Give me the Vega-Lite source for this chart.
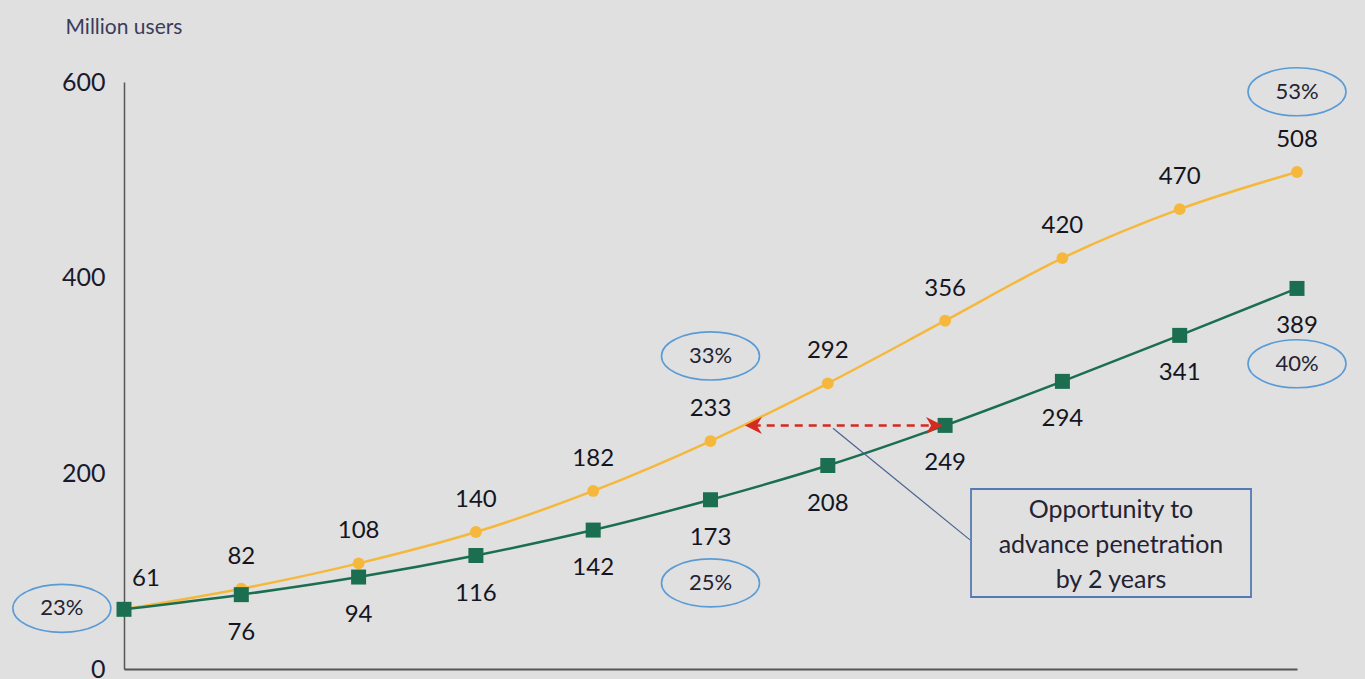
{
  "$schema": "https://vega.github.io/schema/vega-lite/v6.json",
  "width": 1173,
  "height": 587,
  "autosize": {"type": "none"},
  "padding": {"left": 124, "top": 82, "right": 68, "bottom": 10},
  "background": "#e0e0e0",
  "config": {"view": {"stroke": null}, "font": "Lato"},
  "datasets": {
    "users": [
      {"i": 0, "series": "Orange", "v": 61}, {"i": 1, "series": "Orange", "v": 82},
      {"i": 2, "series": "Orange", "v": 108}, {"i": 3, "series": "Orange", "v": 140},
      {"i": 4, "series": "Orange", "v": 182}, {"i": 5, "series": "Orange", "v": 233},
      {"i": 6, "series": "Orange", "v": 292}, {"i": 7, "series": "Orange", "v": 356},
      {"i": 8, "series": "Orange", "v": 420}, {"i": 9, "series": "Orange", "v": 470},
      {"i": 10, "series": "Orange", "v": 508},
      {"i": 0, "series": "Green", "v": 61}, {"i": 1, "series": "Green", "v": 76},
      {"i": 2, "series": "Green", "v": 94}, {"i": 3, "series": "Green", "v": 116},
      {"i": 4, "series": "Green", "v": 142}, {"i": 5, "series": "Green", "v": 173},
      {"i": 6, "series": "Green", "v": 208}, {"i": 7, "series": "Green", "v": 249},
      {"i": 8, "series": "Green", "v": 294}, {"i": 9, "series": "Green", "v": 341},
      {"i": 10, "series": "Green", "v": 389}
    ],
    "pct": [
      {"x": -0.53, "y": 62, "label": "23%"},
      {"x": 5.0, "y": 320, "label": "33%"},
      {"x": 5.0, "y": 88, "label": "25%"},
      {"x": 10.0, "y": 590, "label": "53%"},
      {"x": 10.0, "y": 312, "label": "40%"}
    ],
    "arrow": [{"x": 5.36, "x2": 6.9, "y": 249}],
    "arrowL": [{"x": 5.366, "y": 249}],
    "arrowR": [{"x": 6.91, "y": 249}],
    "connector": [{"x": 6.044, "y": 246, "x2": 7.212, "y2": 132}],
    "box": [{"x": 7.221, "x2": 9.608, "y": 184, "y2": 73.6}],
    "boxText": [{"x": 8.414, "y": 162.5, "t": ["Opportunity to", "advance penetration", "by 2 years"]}]
  },
  "layer": [
    {
      "data": {"name": "users"},
      "mark": {"type": "line", "interpolate": "monotone", "strokeWidth": 2.5},
      "encoding": {
        "x": {"field": "i", "type": "quantitative",
              "scale": {"domain": [0, 10], "nice": false, "zero": false},
              "axis": {"title": null, "labels": false, "ticks": false, "grid": false,
                       "domainColor": "#555555", "domainWidth": 2}},
        "y": {"field": "v", "type": "quantitative",
              "scale": {"domain": [0, 600], "nice": false},
              "axis": {"values": [0, 200, 400, 600], "ticks": false, "grid": false,
                       "domainColor": "#555555", "domainWidth": 1.5,
                       "labelFontSize": 25, "labelColor": "#1a1a2c", "labelPadding": 19,
                       "title": "Million users", "titleAngle": 0, "titleAlign": "left",
                       "titleBaseline": "middle", "titleX": -59, "titleY": -55,
                       "titleFontSize": 21, "titleFontWeight": "normal", "titleColor": "#3b3b5b"}},
        "color": {"field": "series", "type": "nominal",
                  "scale": {"domain": ["Orange", "Green"], "range": ["#f5b83d", "#1b6e50"]},
                  "legend": null},
        "order": {"field": "i"}
      }
    },
    {
      "data": {"name": "users"},
      "transform": [{"filter": "datum.series === 'Orange'"}],
      "mark": {"type": "point", "shape": "circle", "filled": true, "opacity": 1, "size": 140, "color": "#f5b83d"},
      "encoding": {
        "x": {"field": "i", "type": "quantitative"},
        "y": {"field": "v", "type": "quantitative"}
      }
    },
    {
      "data": {"name": "users"},
      "transform": [{"filter": "datum.series === 'Green'"}],
      "mark": {"type": "point", "shape": "square", "filled": true, "opacity": 1, "size": 225, "color": "#1b6e50"},
      "encoding": {
        "x": {"field": "i", "type": "quantitative"},
        "y": {"field": "v", "type": "quantitative"}
      }
    },
    {
      "data": {"name": "users"},
      "transform": [{"filter": "datum.series === 'Orange' && datum.i > 0"}],
      "mark": {"type": "text", "dy": -32, "fontSize": 24, "color": "#151522", "baseline": "middle"},
      "encoding": {
        "x": {"field": "i", "type": "quantitative"},
        "y": {"field": "v", "type": "quantitative"},
        "text": {"field": "v", "type": "quantitative"}
      }
    },
    {
      "data": {"name": "users"},
      "transform": [{"filter": "datum.series === 'Orange' && datum.i === 0"}],
      "mark": {"type": "text", "dx": 22, "dy": -30, "fontSize": 24, "color": "#151522", "baseline": "middle"},
      "encoding": {
        "x": {"field": "i", "type": "quantitative"},
        "y": {"field": "v", "type": "quantitative"},
        "text": {"field": "v", "type": "quantitative"}
      }
    },
    {
      "data": {"name": "users"},
      "transform": [{"filter": "datum.series === 'Green' && datum.i > 0"}],
      "mark": {"type": "text", "dy": 38, "fontSize": 24, "color": "#151522", "baseline": "middle"},
      "encoding": {
        "x": {"field": "i", "type": "quantitative"},
        "y": {"field": "v", "type": "quantitative"},
        "text": {"field": "v", "type": "quantitative"}
      }
    },
    {
      "data": {"name": "pct"},
      "mark": {"type": "point", "shape": "M-1,0 A1,0.49 0 1,1 1,0 A1,0.49 0 1,1 -1,0 Z",
               "size": 9604, "filled": false, "opacity": 1, "stroke": "#5b9bd5", "strokeWidth": 1.6},
      "encoding": {
        "x": {"field": "x", "type": "quantitative"},
        "y": {"field": "y", "type": "quantitative"}
      }
    },
    {
      "data": {"name": "pct"},
      "mark": {"type": "text", "fontSize": 22, "color": "#232333", "baseline": "middle"},
      "encoding": {
        "x": {"field": "x", "type": "quantitative"},
        "y": {"field": "y", "type": "quantitative"},
        "text": {"field": "label", "type": "nominal"}
      }
    },
    {
      "data": {"name": "arrow"},
      "mark": {"type": "rule", "color": "#d42a20", "strokeWidth": 2.5, "strokeDash": [8, 6]},
      "encoding": {
        "x": {"field": "x", "type": "quantitative"},
        "x2": {"field": "x2"},
        "y": {"field": "y", "type": "quantitative"}
      }
    },
    {
      "data": {"name": "arrowL"},
      "mark": {"type": "point", "shape": "M-1,0 L1,-1 L0.4,0 L1,1 Z", "size": 289,
               "filled": true, "opacity": 1, "color": "#d42a20"},
      "encoding": {
        "x": {"field": "x", "type": "quantitative"},
        "y": {"field": "y", "type": "quantitative"}
      }
    },
    {
      "data": {"name": "arrowR"},
      "mark": {"type": "point", "shape": "M1,0 L-1,-1 L-0.4,0 L-1,1 Z", "size": 289,
               "filled": true, "opacity": 1, "color": "#d42a20"},
      "encoding": {
        "x": {"field": "x", "type": "quantitative"},
        "y": {"field": "y", "type": "quantitative"}
      }
    },
    {
      "data": {"name": "connector"},
      "mark": {"type": "rule", "color": "#4a6491", "strokeWidth": 1.2},
      "encoding": {
        "x": {"field": "x", "type": "quantitative"},
        "x2": {"field": "x2"},
        "y": {"field": "y", "type": "quantitative"},
        "y2": {"field": "y2"}
      }
    },
    {
      "data": {"name": "box"},
      "mark": {"type": "rect", "fill": "#e0e0e0", "stroke": "#5479b5", "strokeWidth": 1.8},
      "encoding": {
        "x": {"field": "x", "type": "quantitative"},
        "x2": {"field": "x2"},
        "y": {"field": "y", "type": "quantitative"},
        "y2": {"field": "y2"}
      }
    },
    {
      "data": {"name": "boxText"},
      "mark": {"type": "text", "fontSize": 25, "color": "#232333", "baseline": "middle", "lineHeight": 35},
      "encoding": {
        "x": {"field": "x", "type": "quantitative"},
        "y": {"field": "y", "type": "quantitative"},
        "text": {"field": "t"}
      }
    }
  ]
}
